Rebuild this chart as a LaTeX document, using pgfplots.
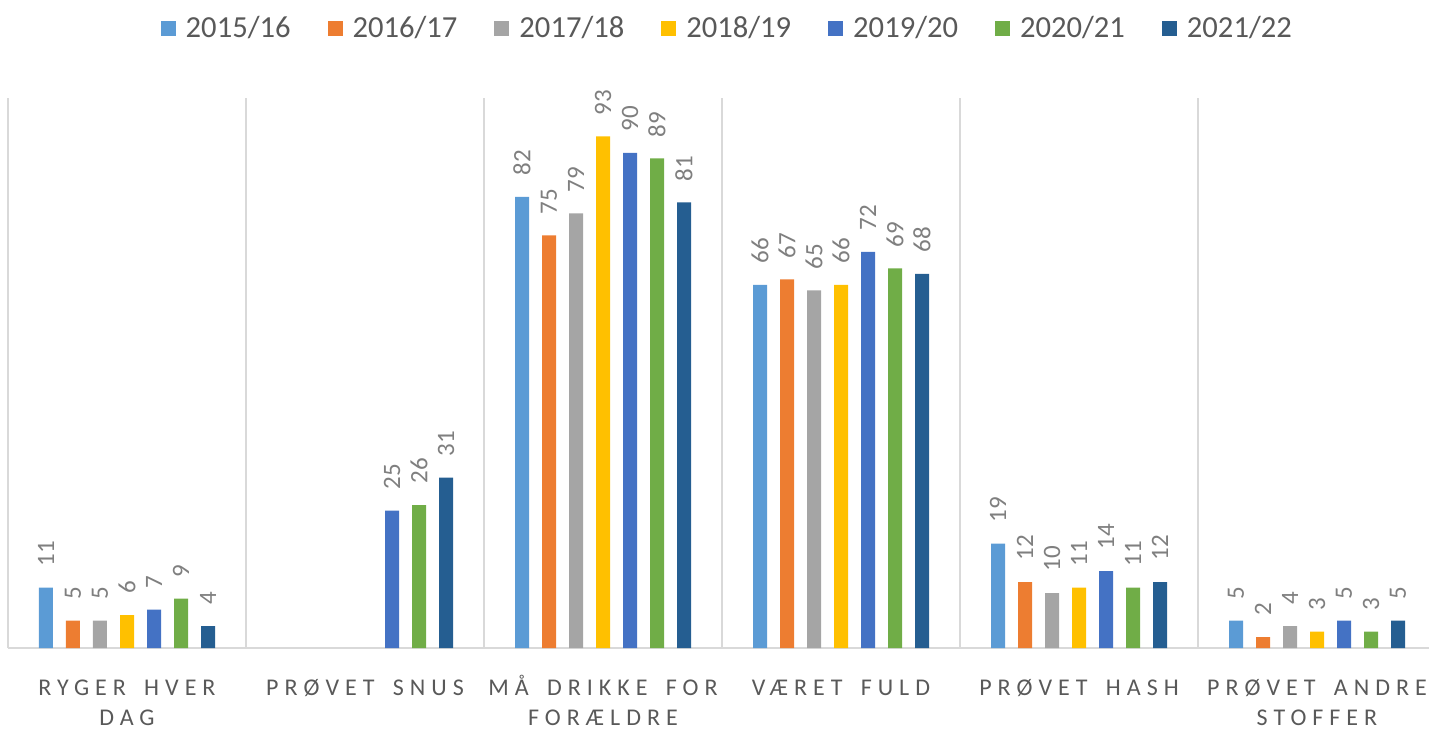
\documentclass[border=0pt]{standalone}
\usepackage{fontspec}
\setmainfont{Carlito}
\newfontfamily\tickfont[LetterSpace=25,WordSpace=1.6]{Carlito}
\usepackage{pgfplots}
\pgfplotsset{compat=1.18}
\definecolor{c1}{HTML}{5B9BD5}
\definecolor{c2}{HTML}{ED7D31}
\definecolor{c3}{HTML}{A5A5A5}
\definecolor{c4}{HTML}{FFC000}
\definecolor{c5}{HTML}{4472C4}
\definecolor{c6}{HTML}{70AD47}
\definecolor{c7}{HTML}{255E91}
\definecolor{gridc}{HTML}{D9D9D9}
\definecolor{txt}{HTML}{595959}
\definecolor{lbl}{HTML}{7F7F7F}
\newcommand{\fl}{\vphantom{ÅØ}}
\begin{document}
\begin{tikzpicture}
\begin{axis}[
  at={(0,0)}, anchor=south west,
  scale only axis, width=714pt, height=275pt,
  xmin=-0.5, xmax=5.5, ymin=0, ymax=100,
  ybar=6.5pt, bar width=7pt,
  axis x line*=bottom, axis y line*=left,
  y axis line style={draw=none},
  x axis line style={draw=gridc, line width=0.75pt, -},
  xtick={0,...,5},
  xticklabels={{\fl RYGER HVER\\DAG},{\fl PRØVET SNUS},{\fl MÅ DRIKKE FOR\\FORÆLDRE},{\fl VÆRET FULD},{\fl PRØVET HASH},{\fl PRØVET ANDRE\\STOFFER}},
  minor xtick={-0.5,0.5,1.5,2.5,3.5,4.5,5.5},
  xminorgrids, minor grid style={draw=gridc, line width=0.75pt},
  major tick length=0pt, minor tick length=0pt,
  ytick=\empty,
  xticklabel style={font=\tickfont\fontsize{12}{15}\selectfont, text=txt, align=center, yshift=-10pt},
  nodes near coords={\pgfmathprintnumber[assume math mode=true]{\pgfplotspointmeta}},
  nodes near coords style={rotate=90, anchor=west, inner ysep=0pt, inner xsep=10.5pt, font=\fontsize{12.5}{12.5}\selectfont, text=lbl},
  legend style={at={(0.503,1.127)}, anchor=center, draw=none, fill=none,
    legend columns=-1, font=\fontsize{15.3}{18}\selectfont, text=txt,
    nodes={inner sep=0pt},
    /tikz/every odd column/.append style={column sep=5pt},
    /tikz/every even column/.append style={column sep=18.5pt}},
  legend image code/.code={\fill[#1] (0pt,-3.75pt) rectangle (7.5pt,3.75pt);},
]
\addplot[fill=c1, draw=none] coordinates {(0,11) (2,82) (3,66) (4,19) (5,5)};
\addplot[fill=c2, draw=none] coordinates {(0,5) (2,75) (3,67) (4,12) (5,2)};
\addplot[fill=c3, draw=none] coordinates {(0,5) (2,79) (3,65) (4,10) (5,4)};
\addplot[fill=c4, draw=none] coordinates {(0,6) (2,93) (3,66) (4,11) (5,3)};
\addplot[fill=c5, draw=none] coordinates {(0,7) (1,25) (2,90) (3,72) (4,14) (5,5)};
\addplot[fill=c6, draw=none] coordinates {(0,9) (1,26) (2,89) (3,69) (4,11) (5,3)};
\addplot[fill=c7, draw=none] coordinates {(0,4) (1,31) (2,81) (3,68) (4,12) (5,5)};
\legend{2015/16,2016/17,2017/18,2018/19,2019/20,2020/21,2021/22}
\end{axis}
\pgfresetboundingbox
\useasboundingbox (-4pt,-40pt) rectangle (710.5pt,324pt);
\end{tikzpicture}
\end{document}
